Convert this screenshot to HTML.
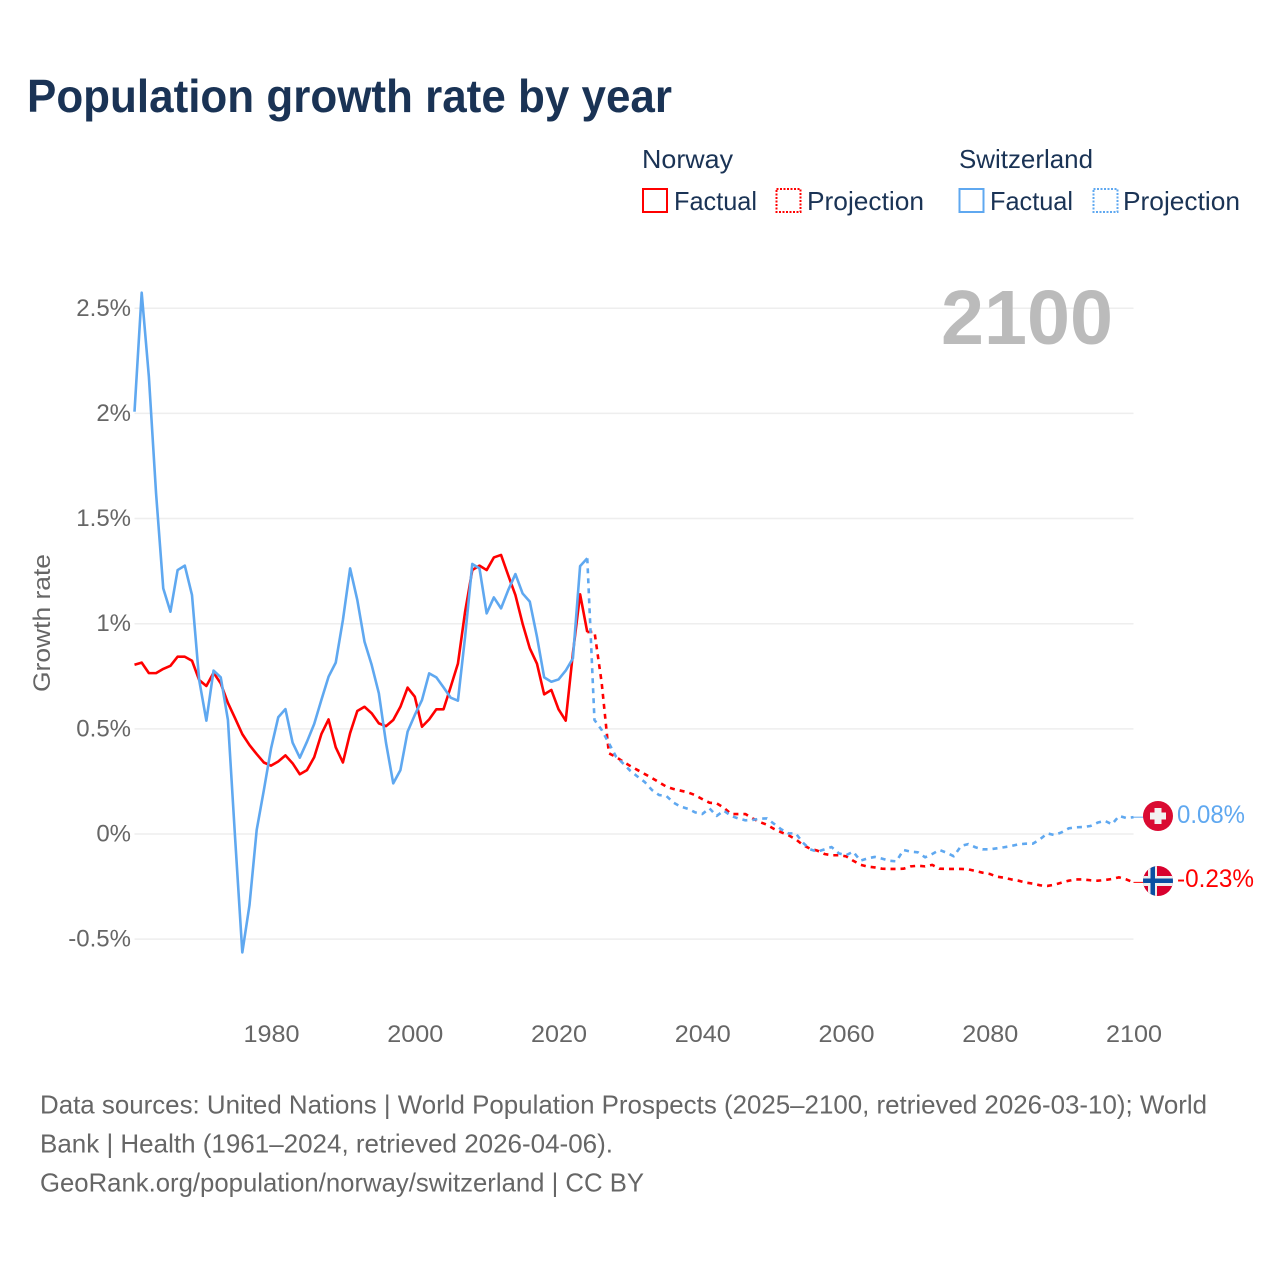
<!DOCTYPE html>
<html lang="en">
<head>
<meta charset="utf-8">
<title>Population growth rate by year</title>
<style>
html,body{margin:0;padding:0;background:#fff;width:1280px;height:1280px;overflow:hidden}
svg{display:block;font-family:"Liberation Sans",sans-serif}
</style>
</head>
<body>
<svg id="chart" xmlns="http://www.w3.org/2000/svg" width="1280" height="1280" viewBox="0 0 1280 1280">
  <rect x="0" y="0" width="1280" height="1280" fill="#ffffff"/>
  <text x="27" y="112" font-size="46" font-weight="bold" fill="#1a3355" textLength="645" lengthAdjust="spacingAndGlyphs">Population growth rate by year</text>

  <g font-size="26" fill="#1a3355">
    <text x="642" y="168" textLength="91" lengthAdjust="spacingAndGlyphs">Norway</text>
    <text x="959" y="168" textLength="134" lengthAdjust="spacingAndGlyphs">Switzerland</text>
    <rect x="643" y="189" width="24" height="23" fill="none" stroke="#ff0000" stroke-width="2"/>
    <text x="674" y="210" textLength="83" lengthAdjust="spacingAndGlyphs">Factual</text>
    <rect x="776.500" y="189" width="24" height="23" fill="none" stroke="#ff0000" stroke-width="2" stroke-dasharray="2 1.500"/>
    <text x="807" y="210" textLength="117" lengthAdjust="spacingAndGlyphs">Projection</text>
    <rect x="959.500" y="189" width="24" height="23" fill="none" stroke="#5fa8f0" stroke-width="2"/>
    <text x="990" y="210" textLength="83" lengthAdjust="spacingAndGlyphs">Factual</text>
    <rect x="1093.500" y="189" width="24" height="23" fill="none" stroke="#5fa8f0" stroke-width="2" stroke-dasharray="2 1.500"/>
    <text x="1123" y="210" textLength="117" lengthAdjust="spacingAndGlyphs">Projection</text>
  </g>

  <text transform="translate(50,623) rotate(-90)" text-anchor="middle" font-size="24" fill="#666666" textLength="138" lengthAdjust="spacingAndGlyphs">Growth rate</text>
  <g id="grid"></g>
  <g id="yticks"></g>
  <g id="xticks"></g>

  <text x="1113" y="344" text-anchor="end" font-size="77" font-weight="bold" fill="#bbbbbb" textLength="172" lengthAdjust="spacingAndGlyphs">2100</text>

  <g id="series"></g>

  <defs>
    <clipPath id="flag-clip-ch"><circle cx="1158" cy="816" r="15"/></clipPath>
    <clipPath id="flag-clip-no"><circle cx="1158" cy="881" r="15"/></clipPath>
  </defs>
  <g clip-path="url(#flag-clip-ch)">
    <rect x="1143" y="801" width="30" height="30" fill="#da0b32"/>
    <rect x="1154.500" y="808" width="7" height="16" fill="#f2f2f2"/>
    <rect x="1150" y="812.500" width="16" height="7" fill="#f2f2f2"/>
  </g>
  <g clip-path="url(#flag-clip-no)">
    <rect x="1143" y="866" width="30" height="30" fill="#d8002e"/>
    <rect x="1148" y="866" width="9" height="30" fill="#eeeeee"/>
    <rect x="1143" y="876" width="30" height="10" fill="#eeeeee"/>
    <rect x="1150.500" y="866" width="4.500" height="30" fill="#0a4ea2"/>
    <rect x="1143" y="878.500" width="30" height="4.500" fill="#0a4ea2"/>
  </g>
  <text x="1177" y="823" font-size="25" fill="#5fa8f0" textLength="68" lengthAdjust="spacingAndGlyphs">0.08%</text>
  <text x="1177" y="887" font-size="25" fill="#ff0000" textLength="77" lengthAdjust="spacingAndGlyphs">-0.23%</text>

  <g font-size="26" fill="#666666">
    <text x="40" y="1113.500" textLength="1167" lengthAdjust="spacingAndGlyphs">Data sources: United Nations | World Population Prospects (2025–2100, retrieved 2026-03-10); World</text>
    <text x="40" y="1152.500" textLength="573" lengthAdjust="spacingAndGlyphs">Bank | Health (1961–2024, retrieved 2026-04-06).</text>
    <text x="40" y="1191.500" textLength="604" lengthAdjust="spacingAndGlyphs">GeoRank.org/population/norway/switzerland | CC BY</text>
  </g>
</svg>
<script>
const factualStartYear = 1961;
const projectionStartYear = 2024;
const yTickValues = [-0.5, 0, 0.5, 1, 1.5, 2, 2.5];
const yTickLabels = ['-0.5%', '0%', '0.5%', '1%', '1.5%', '2%', '2.5%'];
const xTickYears = [1980, 2000, 2020, 2040, 2060, 2080, 2100];
const xTickLabels = ['1980', '2000', '2020', '2040', '2060', '2080', '2100'];

const norwayFactual = [
  .805,.815,.765,.765,.785,.80,.843,.843,.824,.732,
  .704,.767,.716,.623,.55,.475,.423,.38,.34,.325,
  .345,.374,.336,.284,.304,.365,.475,.545,.412,.34,
  .48,.585,.605,.574,.526,.513,.542,.605,.696,.653,
  .51,.545,.593,.593,.70,.81,1.057,1.255,1.276,1.255,
  1.315,1.327,1.23,1.136,1.0,.883,.81,.664,.685,.593,
  .539,.86,1.14,.96
];
const norwayProjection = [
  .96,.962,.72,.384,.366,.344,
  .323,.304,.285,.266,.246,.225,.214,.206,.198,.185,
  .166,.149,.146,.125,.095,.095,.095,.074,.057,.044,
  .024,.008,-.006,-.025,-.052,-.07,-.079,-.095,-.101,-.101,
  -.106,-.127,-.146,-.155,-.159,-.165,-.166,-.166,-.165,-.154,
  -.151,-.154,-.147,-.165,-.166,-.166,-.166,-.168,-.176,-.184,
  -.19,-.203,-.208,-.216,-.222,-.231,-.236,-.244,-.247,-.241,
  -.231,-.222,-.216,-.216,-.22,-.222,-.219,-.214,-.206,-.216,-.23
];
const switzerlandFactual = [
  2.008,2.574,2.175,1.62,1.168,1.057,1.255,1.276,1.136,.732,
  .539,.777,.745,.542,-.02,-.563,-.338,.019,.209,.407,
  .555,.594,.434,.363,.439,.523,.637,.748,.815,1.018,
  1.263,1.113,.915,.804,.669,.432,.241,.304,.487,.566,
  .637,.764,.745,.697,.648,.634,.938,1.284,1.263,1.049,
  1.125,1.073,1.16,1.236,1.144,1.105,.938,.745,.724,.735,
  .777,.835,1.274,1.311
];
const switzerlandProjection = [
  1.311,.542,.495,.432,.368,.335,
  .3,.273,.247,.209,.185,.181,.149,.13,.12,.103,
  .095,.122,.086,.111,.086,.074,.065,.067,.073,.074,
  .048,.022,.003,.003,-.041,-.073,-.084,-.073,-.062,-.092,
  -.101,-.084,-.127,-.116,-.109,-.117,-.127,-.13,-.076,-.084,
  -.087,-.111,-.095,-.076,-.089,-.106,-.057,-.048,-.063,-.073,
  -.073,-.068,-.063,-.057,-.049,-.046,-.046,-.025,.003,-.005,
  .008,.027,.032,.033,.038,.054,.063,.046,.086,.076,.08
];

const NS = 'http://www.w3.org/2000/svg';
function xScale(year) { return 134.5 + (year - 1961) * (999 / 139); }
function yScale(v) { return 834 - v * 210.3; }

const gridGroup = document.getElementById('grid');
const yTickGroup = document.getElementById('yticks');
const xTickGroup = document.getElementById('xticks');
const seriesGroup = document.getElementById('series');

yTickValues.forEach(function (v, i) {
  const line = document.createElementNS(NS, 'line');
  
  
  line.setAttribute('x1', xScale(1961));
  line.setAttribute('x2', xScale(2100));
  line.setAttribute('y1', yScale(v));
  line.setAttribute('y2', yScale(v));
  line.setAttribute('stroke', '#eeeeee');
  line.setAttribute('stroke-width', '1.5');
  gridGroup.appendChild(line);

  const label = document.createElementNS(NS, 'text');
  
  
  label.setAttribute('x', 131);
  label.setAttribute('y', yScale(v) + 7.5);
  label.setAttribute('text-anchor', 'end');
  label.setAttribute('font-size', '24');
  label.setAttribute('fill', '#666666');
  label.textContent = yTickLabels[i];
  yTickGroup.appendChild(label);
});

xTickYears.forEach(function (year, i) {
  const label = document.createElementNS(NS, 'text');
  
  
  label.setAttribute('x', xScale(year) + 0.5);
  label.setAttribute('y', 1042);
  label.setAttribute('text-anchor', 'middle');
  label.setAttribute('font-size', '24');
  label.setAttribute('fill', '#666666');
  label.setAttribute('textLength', '56');
  label.setAttribute('lengthAdjust', 'spacingAndGlyphs');
  label.textContent = xTickLabels[i];
  xTickGroup.appendChild(label);
});

function pathPoints(values, startYear) {
  return values.map(function (v, i) {
    return xScale(startYear + i).toFixed(2) + ',' + yScale(v).toFixed(2);
  }).join(' ');
}

function drawSeries(values, startYear, color, dashed, name) {
  const line = document.createElementNS(NS, 'polyline');
  
  
  line.setAttribute('points', pathPoints(values, startYear));
  line.setAttribute('fill', 'none');
  line.setAttribute('stroke', color);
  line.setAttribute('stroke-width', '2.6');
  line.setAttribute('stroke-linejoin', 'round');
  if (dashed) {
    line.setAttribute('stroke-dasharray', '5 5');
  }
  seriesGroup.appendChild(line);
}

function drawConnector(values, color, name, flagX) {
  const last = values[values.length - 1];
  const line = document.createElementNS(NS, 'line');
  
  
  line.setAttribute('x1', xScale(2100));
  line.setAttribute('x2', flagX);
  line.setAttribute('y1', yScale(last));
  line.setAttribute('y2', yScale(last));
  line.setAttribute('stroke', color);
  line.setAttribute('stroke-width', '1');
  seriesGroup.appendChild(line);
}

drawSeries(norwayProjection, projectionStartYear, '#ff0000', true, 'line-norway-projection');
drawSeries(switzerlandProjection, projectionStartYear, '#5fa8f0', true, 'line-switzerland-projection');
drawSeries(norwayFactual, factualStartYear, '#ff0000', false, 'line-norway-factual');
drawSeries(switzerlandFactual, factualStartYear, '#5fa8f0', false, 'line-switzerland-factual');
drawConnector(norwayProjection, '#ff0000', 'connector-norway', 1145);
drawConnector(switzerlandProjection, '#5fa8f0', 'connector-switzerland', 1145);
</script>
</body>
</html>
